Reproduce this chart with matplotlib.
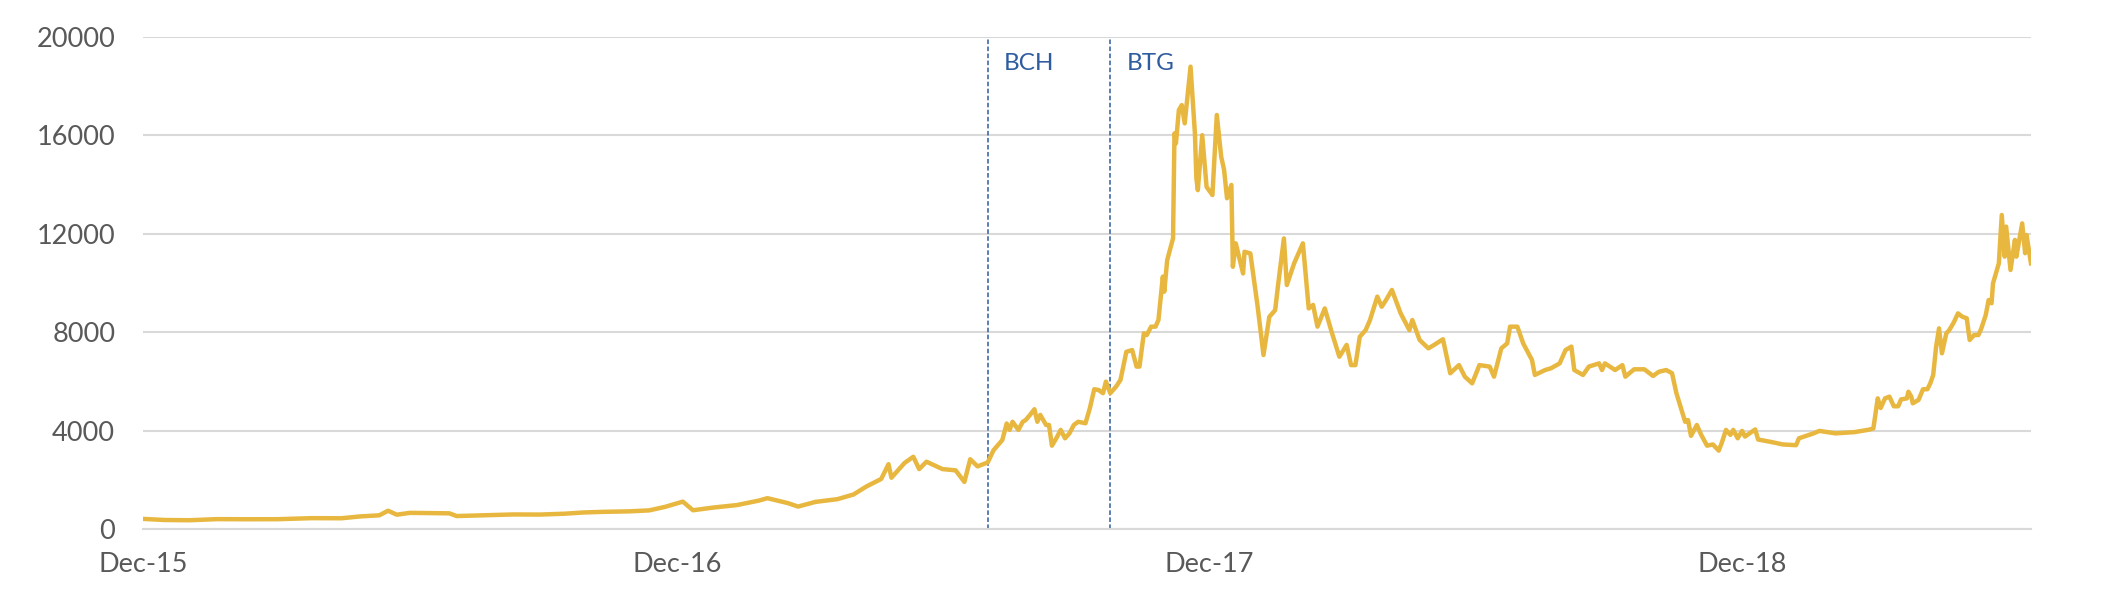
import numpy as np
from matplotlib import pyplot as plt
import matplotlib.dates as mdates

plt.rcParams['font.family'] = ['Lato', 'DejaVu Sans']

dates = [
    '2015-12-31', '2016-01-15', '2016-02-01', '2016-02-20', '2016-03-10', '2016-04-01',
    '2016-04-25', '2016-05-15', '2016-05-28', '2016-06-10', '2016-06-16', '2016-06-22',
    '2016-07-01', '2016-07-15', '2016-07-28', '2016-08-02', '2016-08-20', '2016-09-10',
    '2016-09-28', '2016-10-15', '2016-10-28', '2016-11-10', '2016-11-28', '2016-12-12',
    '2016-12-23', '2017-01-04', '2017-01-11', '2017-01-25', '2017-02-10', '2017-02-25',
    '2017-03-03', '2017-03-17', '2017-03-24', '2017-04-05', '2017-04-20', '2017-05-01',
    '2017-05-10', '2017-05-20', '2017-05-25', '2017-05-27', '2017-06-05', '2017-06-11',
    '2017-06-15', '2017-06-20', '2017-07-01', '2017-07-10', '2017-07-16', '2017-07-20',
    '2017-07-25', '2017-08-01', '2017-08-05', '2017-08-11', '2017-08-14', '2017-08-16',
    '2017-08-18', '2017-08-22', '2017-08-25', '2017-08-27', '2017-08-30', '2017-09-02',
    '2017-09-04', '2017-09-06', '2017-09-10', '2017-09-12', '2017-09-14', '2017-09-17',
    '2017-09-20', '2017-09-23', '2017-09-26', '2017-09-29', '2017-10-02', '2017-10-07',
    '2017-10-10', '2017-10-13', '2017-10-16', '2017-10-19', '2017-10-21', '2017-10-24',
    '2017-10-28', '2017-10-31', '2017-11-04', '2017-11-08', '2017-11-11', '2017-11-13',
    '2017-11-16', '2017-11-18', '2017-11-21', '2017-11-24', '2017-11-26', '2017-11-29',
    '2017-11-30', '2017-12-02', '2017-12-06', '2017-12-07', '2017-12-08', '2017-12-10',
    '2017-12-12', '2017-12-14', '2017-12-18', '2017-12-21', '2017-12-22', '2017-12-23',
    '2017-12-26', '2017-12-29', '2018-01-02', '2018-01-05', '2018-01-08', '2018-01-10',
    '2018-01-12', '2018-01-15', '2018-01-16', '2018-01-18', '2018-01-23', '2018-01-24',
    '2018-01-28', '2018-02-02', '2018-02-06', '2018-02-10', '2018-02-14', '2018-02-16',
    '2018-02-20', '2018-02-22', '2018-02-27', '2018-03-05', '2018-03-09', '2018-03-12',
    '2018-03-15', '2018-03-20', '2018-03-25', '2018-03-30', '2018-04-04', '2018-04-07',
    '2018-04-10', '2018-04-13', '2018-04-17', '2018-04-20', '2018-04-25', '2018-04-28',
    '2018-05-01', '2018-05-05', '2018-05-11', '2018-05-14', '2018-05-17', '2018-05-19',
    '2018-05-24', '2018-05-30', '2018-06-03', '2018-06-09', '2018-06-14', '2018-06-20',
    '2018-06-24', '2018-06-29', '2018-07-04', '2018-07-11', '2018-07-14', '2018-07-19',
    '2018-07-23', '2018-07-25', '2018-07-30', '2018-08-03', '2018-08-09', '2018-08-11',
    '2018-08-18', '2018-08-22', '2018-08-28', '2018-09-01', '2018-09-05', '2018-09-07',
    '2018-09-13', '2018-09-17', '2018-09-24', '2018-09-26', '2018-09-28', '2018-10-05',
    '2018-10-10', '2018-10-12', '2018-10-18', '2018-10-25', '2018-10-31', '2018-11-04',
    '2018-11-09', '2018-11-13', '2018-11-16', '2018-11-22', '2018-11-24', '2018-11-26',
    '2018-11-30', '2018-12-03', '2018-12-07', '2018-12-11', '2018-12-15', '2018-12-17',
    '2018-12-20', '2018-12-23', '2018-12-25', '2018-12-28', '2018-12-31', '2019-01-02',
    '2019-01-09', '2019-01-11', '2019-01-20', '2019-01-28', '2019-02-06', '2019-02-08',
    '2019-02-18', '2019-02-22', '2019-03-05', '2019-03-18', '2019-03-28', '2019-03-31',
    '2019-04-03', '2019-04-05', '2019-04-08', '2019-04-11', '2019-04-14', '2019-04-17',
    '2019-04-19', '2019-04-23', '2019-04-24', '2019-04-26', '2019-04-27', '2019-05-01',
    '2019-05-04', '2019-05-07', '2019-05-09', '2019-05-11', '2019-05-13', '2019-05-15',
    '2019-05-17', '2019-05-20', '2019-05-22', '2019-05-25', '2019-05-28', '2019-05-31',
    '2019-06-03', '2019-06-05', '2019-06-08', '2019-06-11', '2019-06-13', '2019-06-16',
    '2019-06-18', '2019-06-20', '2019-06-21', '2019-06-25', '2019-06-27', '2019-06-29',
    '2019-06-30', '2019-07-03', '2019-07-06', '2019-07-07', '2019-07-10', '2019-07-11',
    '2019-07-13', '2019-07-14', '2019-07-17',
]
prices = [
    430, 385, 375, 420, 415, 417,
    460, 455, 530, 575, 760, 600,
    675, 665, 655, 545, 575, 610,
    605, 640, 690, 715, 735, 775,
    920, 1130, 780, 890, 990, 1170,
    1270, 1070, 930, 1120, 1230, 1420,
    1750, 2050, 2650, 2100, 2700, 2950,
    2450, 2750, 2450, 2400, 1930, 2850,
    2560, 2720, 3220, 3630, 4300, 4040,
    4370, 4040, 4370, 4440, 4650, 4880,
    4370, 4650, 4240, 4240, 3400, 3700,
    4040, 3700, 3900, 4240, 4370, 4310,
    4920, 5690, 5660, 5530, 6000, 5530,
    5800, 6070, 7210, 7280, 6610, 6610,
    7960, 7890, 8230, 8230, 8500, 10260,
    9650, 10930, 11810, 16070, 15670, 17020,
    17220, 16480, 18780, 16070, 14250, 13770,
    16000, 13900, 13570, 16820, 15130, 14590,
    13440, 13980, 10660, 11610, 10390, 11270,
    11200, 9040, 7080, 8630, 8900, 9920,
    11810, 9920, 10800, 11610, 8970, 9110,
    8230, 8970, 7960, 7010, 7490, 6670,
    6670, 7820, 8090, 8500, 9450, 9040,
    9310, 9720, 8770, 8430, 8090, 8500,
    7690, 7350, 7490, 7720, 6340, 6670,
    6200, 5930, 6670, 6610, 6200, 7350,
    7550, 8230, 8230, 7550, 6880, 6270,
    6470, 6540, 6740, 7280, 7420, 6470,
    6270, 6610, 6740, 6470, 6740, 6470,
    6670, 6200, 6500, 6500, 6230, 6400,
    6470, 6340, 5530, 4370, 4440, 3800,
    4240, 3840, 3400, 3450, 3200, 3500,
    4040, 3840, 4040, 3700, 4000, 3770,
    4060, 3650, 3550, 3450, 3420, 3700,
    3900, 4000, 3900, 3950, 4050, 4100,
    5320, 4930, 5320, 5390, 5000, 5000,
    5280, 5320, 5590, 5390, 5120, 5260,
    5690, 5690, 5930, 6270, 7420, 8160,
    7150, 7960, 8090, 8390, 8770, 8630,
    8570, 7690, 7890, 7890, 8160, 8700,
    9310, 9180, 9990, 10800, 12760, 11070,
    12290, 10530, 11750, 11070, 12080, 12420,
    11210, 11950, 10800,
]

forks = ['BCH', 'BTG']
fork_dates = ['2017-08-01', '2017-10-24']
tick_dates = ['2015-12-31', '2016-12-31', '2017-12-31', '2018-12-31']
yticks = [0, 4000, 8000, 12000, 16000, 20000]

x = np.array(dates, dtype='datetime64[D]')
fig = plt.figure(figsize=(21.02, 6.10), dpi=100)
ax = fig.add_axes([0.068, 0.132, 0.8982, 0.808])

ax.plot(x, prices, color='#E8B73F', linewidth=3.2, solid_joinstyle='round', zorder=3)

for name, d in zip(forks, fork_dates):
    xd = np.datetime64(d)
    ax.axvline(xd, color='#2F5C9E', linewidth=1.1, linestyle=(0, (3, 1.6)), zorder=2)
    ax.text(xd + np.timedelta64(11, 'D'), 18900, name, color='#2F5C9E', fontsize=17.5, va='center', ha='left')

ax.set_ylim(0, 20000)
ax.set_xlim(x[0], x[-1])
ax.set_yticks(yticks)
ax.set_xticks(np.array(tick_dates, dtype='datetime64[D]'))
ax.xaxis.set_major_formatter(mdates.DateFormatter('%b-%y'))
ax.grid(axis='y', color='#D9D9D9', linewidth=1.5, zorder=0)
ax.tick_params(axis='both', length=0, labelsize=19.5, labelcolor='#595959')
ax.tick_params(axis='y', pad=20)
ax.tick_params(axis='x', pad=16)
for side in ['top', 'right', 'left']:
    ax.spines[side].set_visible(False)
ax.spines['bottom'].set_color('#D9D9D9')
ax.spines['bottom'].set_linewidth(1.5)

plt.savefig('out.png', dpi=100)
